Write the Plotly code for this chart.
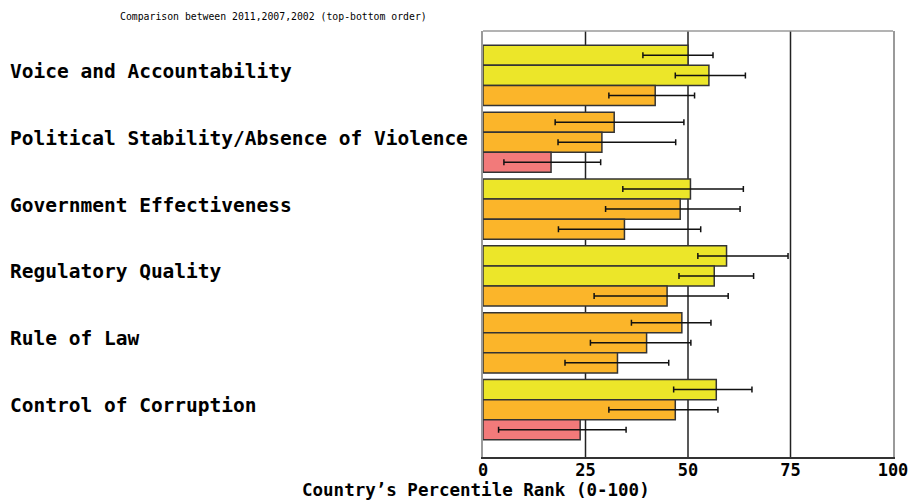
import plotly.graph_objects as go

# Governance indicators, percentile rank (0-100), with confidence ranges
indicators = [
    "Voice and Accountability",
    "Political Stability/Absence of Violence",
    "Government Effectiveness",
    "Regulatory Quality",
    "Rule of Law",
    "Control of Corruption",
]
years = ["2011", "2007", "2002"]

rank_2011 = [50.0, 32.0, 50.6, 59.4, 48.5, 56.9]
low_2011 = [39.0, 17.6, 34.1, 52.4, 36.2, 46.5]
high_2011 = [56.1, 49.0, 63.5, 74.4, 55.6, 65.6]

rank_2007 = [55.1, 29.0, 48.1, 56.4, 39.9, 46.9]
low_2007 = [46.9, 18.3, 29.9, 47.8, 26.2, 30.7]
high_2007 = [64.0, 47.0, 62.7, 66.0, 50.7, 57.3]

rank_2002 = [42.0, 16.6, 34.5, 44.9, 32.8, 23.7]
low_2002 = [30.7, 5.1, 18.4, 27.1, 20.0, 3.8]
high_2002 = [51.6, 28.7, 53.1, 59.8, 45.3, 34.9]

x_ticks = [0, 25, 50, 75, 100]
grid_at = [25, 50, 75]

YELLOW = "#ECE629"
ORANGE = "#FBB52A"
RED = "#F27A7A"


def band_colour(v):
    if v >= 50:
        return YELLOW
    if v >= 25:
        return ORANGE
    return RED


MONO = "DejaVu Sans Mono"
L_PAD, R_PAD, T_PAD, B_PAD = 483, 17, 31, 44
W, H = 910, 501
plot_w = W - L_PAD - R_PAD
plot_h = H - T_PAD - B_PAD

fig = go.Figure()
for name, vals, lo, hi in [
    ("2011", rank_2011, low_2011, high_2011),
    ("2007", rank_2007, low_2007, high_2007),
    ("2002", rank_2002, low_2002, high_2002),
]:
    fig.add_trace(go.Bar(
        name=name,
        orientation="h",
        y=indicators,
        x=vals,
        marker=dict(color=[band_colour(v) for v in vals],
                    line=dict(color="#333333", width=1.5)),
        error_x=dict(type="data", symmetric=False,
                     array=[h - v for h, v in zip(hi, vals)],
                     arrayminus=[v - l for v, l in zip(vals, lo)],
                     color="#111111", thickness=1.5, width=3),
        showlegend=False,
        hoverinfo="skip",
    ))

# vertical reference lines at the inner ticks
for g in grid_at:
    fig.add_shape(type="line", xref="x", yref="paper", x0=g, x1=g, y0=0, y1=1,
                  line=dict(color="#222222", width=1.5), layer="below")
# top edge of the frame
fig.add_shape(type="line", xref="paper", yref="paper", x0=0, x1=1, y0=1, y1=1,
              line=dict(color="#9a9a9a", width=1.5))

# category labels, left aligned at the page edge
for name in indicators:
    fig.add_annotation(text=name, xref="paper", yref="y", x=(8 - L_PAD) / plot_w,
                       y=name, xanchor="left", yanchor="middle", yshift=4,
                       showarrow=False,
                       font=dict(family=MONO, size=19.5, color="#000000", weight="bold"))

fig.add_annotation(text="Comparison between 2011,2007,2002 (top-bottom order)",
                   xref="paper", yref="paper", x=(273 - L_PAD) / plot_w,
                   y=(H - B_PAD - 16) / plot_h, xanchor="center", yanchor="middle",
                   showarrow=False,
                   font=dict(family=MONO, size=9.8, color="#000000"))

fig.add_annotation(text="Country’s Percentile Rank (0-100)",
                   xref="paper", yref="paper", x=(476 - L_PAD) / plot_w,
                   y=(H - B_PAD - 489.5) / plot_h, xanchor="center", yanchor="middle",
                   showarrow=False,
                   font=dict(family=MONO, size=17.5, color="#000000", weight="bold"))

n = len(indicators)
fig.update_layout(
    width=W, height=H,
    margin=dict(l=L_PAD, r=R_PAD, t=T_PAD, b=B_PAD, pad=0, autoexpand=False),
    paper_bgcolor="white", plot_bgcolor="white",
    barmode="group", bargap=0.1, bargroupgap=0,
    xaxis=dict(range=[0, 100], tickvals=x_ticks, showgrid=False, zeroline=False,
               showline=True, linecolor="#333333", linewidth=1.5, ticks="",
               ticklabelstandoff=-3, automargin=False,
               tickfont=dict(family=MONO, size=17, color="#000000", weight="bold"),
               fixedrange=True),
    yaxis=dict(type="category", categoryorder="array", categoryarray=indicators,
               range=[n - 1 + 0.708, -0.664], showticklabels=False, showgrid=False,
               zeroline=False, showline=True, mirror=True, linecolor="#9a9a9a",
               linewidth=1.5, ticks="", automargin=False, fixedrange=True),
)

fig.write_html("out.html")
